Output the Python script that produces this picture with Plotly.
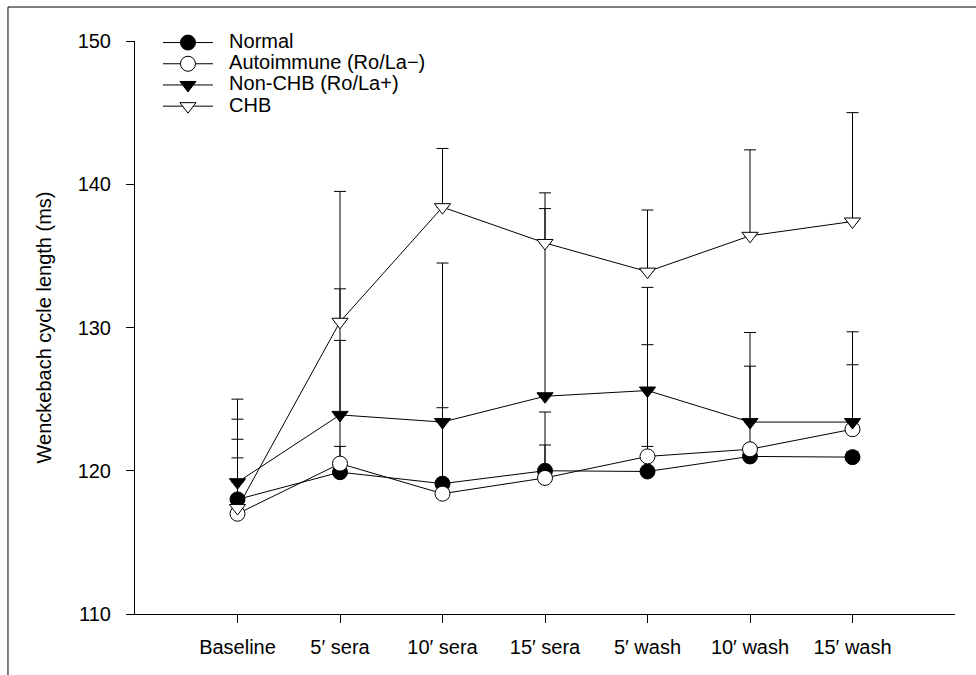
import plotly.graph_objects as go

categories = ["Baseline", "5\u2032 sera", "10\u2032 sera", "15\u2032 sera", "5\u2032 wash", "10\u2032 wash", "15\u2032 wash"]

normal = [118.0, 119.9, 119.1, 120.0, 119.95, 121.0, 120.95]
normal_err = [2.9, 1.8, 5.3, 1.8, 1.75, 0.4, 0.4]

autoimmune = [117.0, 120.5, 118.4, 119.5, 121.0, 121.5, 122.9]
autoimmune_err = [5.2, 8.6, 0.4, 4.6, 7.8, 5.8, 4.5]

non_chb = [119.2, 123.9, 123.4, 125.2, 125.6, 123.4, 123.4]
non_chb_err = [5.8, 8.8, 11.1, 13.1, 7.2, 6.25, 6.3]

chb = [117.4, 130.4, 138.4, 135.9, 133.9, 136.4, 137.4]
chb_err = [6.2, 9.1, 4.1, 3.5, 4.3, 6.0, 7.6]

series = [
    ("Normal", normal, normal_err, "circle", "black"),
    ("Autoimmune (Ro/La\u2212)", autoimmune, autoimmune_err, "circle", "white"),
    ("Non-CHB (Ro/La+)", non_chb, non_chb_err, "triangle-down", "black"),
    ("CHB", chb, chb_err, "triangle-down", "white"),
]

fig = go.Figure()
for name, vals, errs, sym, fill in series:
    fig.add_trace(go.Scatter(
        x=categories, y=vals,
        name='<span style="font-size:20px">\u00a0\u00a0' + name + '</span>',
        mode="lines+markers",
        line=dict(color="black", width=1),
        marker=dict(symbol=sym, size=15 if sym == "circle" else 14, color=fill,
                    line=dict(color="black", width=1)),
        error_y=dict(type="data", array=errs, arrayminus=[0] * len(errs), symmetric=False,
                     color="black", thickness=1, width=6),
    ))

font = "Arial, Liberation Sans, sans-serif"
fig.update_layout(
    width=976, height=675,
    margin=dict(l=135, r=21, t=41, b=61),
    paper_bgcolor="white", plot_bgcolor="white",
    font=dict(family=font, size=20, color="black"),
    showlegend=True,
    legend=dict(x=0.028, y=1.0245, xanchor="left", yanchor="top",
                bgcolor="rgba(0,0,0,0)", font=dict(size=14), itemwidth=50,
                tracegroupgap=0),
    xaxis=dict(type="category", range=[-1, 7], showline=True, linecolor="black", linewidth=1,
               ticks="outside", ticklen=8, tickcolor="black", showgrid=False, zeroline=False,
               ticklabelstandoff=7, tickfont=dict(size=20)),
    yaxis=dict(range=[110, 150], dtick=10, showline=True, linecolor="black", linewidth=1,
               ticks="outside", ticklen=8, tickcolor="black", showgrid=False, zeroline=False,
               ticklabelstandoff=11, tickfont=dict(size=20),
               title=dict(text="Wenckebach cycle length (ms)", standoff=20, font=dict(size=20))),
    shapes=[
        dict(type="line", xref="paper", yref="paper", x0=-0.1549, x1=-0.1549, y0=-0.2, y1=1.0593,
             line=dict(color="black", width=1)),
        dict(type="line", xref="paper", yref="paper", x0=-0.1549, x1=1.1, y0=1.0593, y1=1.0593,
             line=dict(color="black", width=1)),
    ],
)

fig.write_html("out.html", config={"displayModeBar": False},
               post_script="document.body.style.margin='0';")
